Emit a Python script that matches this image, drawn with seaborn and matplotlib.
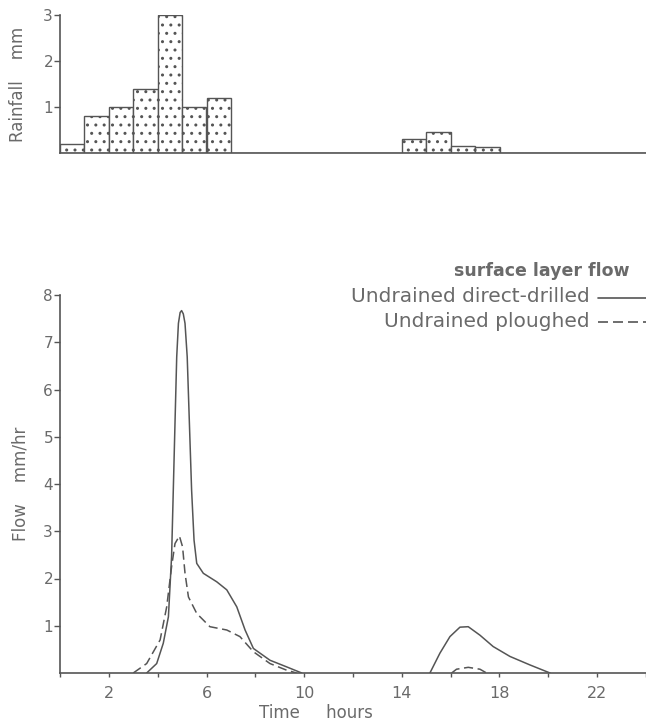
import matplotlib
matplotlib.use("Agg")
import matplotlib.pyplot as plt
from matplotlib.lines import Line2D
import seaborn as sns
import pandas as pd

# ---- data ----
rain_hour_start = [0, 1, 2, 3, 4, 5, 6, 14, 15, 16, 17]
rain_mm = [0.2, 0.8, 1.0, 1.4, 3.0, 1.0, 1.2, 0.3, 0.45, 0.15, 0.12]

# Undrained direct-drilled (solid), first event
dd1_hours = [3.55, 3.96, 4.23, 4.44, 4.57, 4.64, 4.71, 4.78, 4.85, 4.92, 4.98,
             5.05, 5.12, 5.21, 5.3, 5.39, 5.49, 5.6, 5.87, 6.42, 6.83, 7.24,
             7.58, 7.92, 8.6, 9.28, 9.9]
dd1_flow = [0.0, 0.2, 0.63, 1.19, 2.46, 3.87, 5.29, 6.69, 7.4, 7.63, 7.67,
            7.6, 7.4, 6.69, 5.28, 3.87, 2.81, 2.32, 2.11, 1.93, 1.76, 1.4,
            0.91, 0.52, 0.27, 0.13, 0.0]
# second event
dd2_hours = [15.15, 15.56, 15.97, 16.38, 16.72, 17.2, 17.74, 18.43, 19.25, 20.07]
dd2_flow = [0.0, 0.42, 0.77, 0.97, 0.98, 0.8, 0.56, 0.35, 0.17, 0.0]

# Undrained ploughed (dashed)
pl1_hours = [3.0, 3.55, 4.1, 4.37, 4.57, 4.71, 4.89, 5.02, 5.12, 5.26, 5.6,
             6.14, 6.83, 7.37, 7.92, 8.6, 9.28, 9.69]
pl1_flow = [0.0, 0.2, 0.7, 1.4, 2.25, 2.74, 2.9, 2.67, 2.11, 1.61, 1.26,
            0.98, 0.91, 0.77, 0.45, 0.2, 0.06, 0.0]
pl2_hours = [16.04, 16.24, 16.72, 17.2, 17.47]
pl2_flow = [0.0, 0.08, 0.12, 0.08, 0.0]

x_ticks = [0, 2, 4, 6, 8, 10, 12, 14, 16, 18, 20, 22, 24]
x_tick_labels = ["", "2", "", "6", "", "10", "", "14", "", "18", "", "22", ""]
flow_ticks = [1, 2, 3, 4, 5, 6, 7, 8]
rain_ticks = [1, 2, 3]

TXT = "#6a6a6a"
LN = "#555555"

sns.set_theme(style="white")
plt.rcParams["font.family"] = ["DejaVu Sans"]
plt.rcParams["hatch.color"] = "#777777"
plt.rcParams["hatch.linewidth"] = 1.0

W, H = 646, 724
fig = plt.figure(figsize=(W / 100, H / 100), dpi=100)

def fx(px):
    return px / W

def fy(py):
    return 1 - py / H

left = fx(60)
width = fx(646) - left

# ---- rainfall axes ----
ax1 = fig.add_axes([left, fy(153), width, fy(15) - fy(153)])
rain_df = pd.DataFrame({"hour": rain_hour_start, "mm": rain_mm})
sns.histplot(data=rain_df, x="hour", weights="mm", bins=list(range(0, 25)),
             ax=ax1, color="white", edgecolor=LN, linewidth=1.0,
             hatch="..", alpha=1.0)
ax1.set_xlim(0, 24)
ax1.set_ylim(0, 3)
ax1.set_yticks(rain_ticks)
ax1.set_xticks([])
ax1.set_xlabel("")
ax1.set_ylabel("Rainfall    mm", color=TXT, fontsize=12, labelpad=12)
for s in ["top", "right"]:
    ax1.spines[s].set_visible(False)
for s in ["left", "bottom"]:
    ax1.spines[s].set_color(LN)
    ax1.spines[s].set_linewidth(1.2)
ax1.tick_params(axis="y", direction="out", length=4, width=1, color=LN,
                labelcolor=TXT, labelsize=11, pad=1, left=True)

# ---- flow axes ----
ax2 = fig.add_axes([left, fy(673), width, fy(295) - fy(673)])
for hrs, fl in ((dd1_hours, dd1_flow), (dd2_hours, dd2_flow)):
    sns.lineplot(x=hrs, y=fl, ax=ax2, color=LN, linewidth=1.1,
                 sort=False, estimator=None)
for hrs, fl in ((pl1_hours, pl1_flow), (pl2_hours, pl2_flow)):
    sns.lineplot(x=hrs, y=fl, ax=ax2, color=LN, linewidth=1.1,
                 sort=False, estimator=None, linestyle=(0, (6, 3)))
ax2.set_xlim(0, 24)
ax2.set_ylim(0, 8)
ax2.set_yticks(flow_ticks)
ax2.set_xticks(x_ticks)
ax2.set_xticklabels(x_tick_labels)
ax2.set_xlabel("")
ax2.set_ylabel("Flow    mm/hr", color=TXT, fontsize=12, labelpad=10)
for s in ["top", "right"]:
    ax2.spines[s].set_visible(False)
for s in ["left", "bottom"]:
    ax2.spines[s].set_color(LN)
    ax2.spines[s].set_linewidth(1.2)
ax2.tick_params(axis="y", direction="out", length=4, width=1, color=LN,
                labelcolor=TXT, labelsize=11, pad=1, left=True)
ax2.tick_params(axis="x", direction="out", length=3, width=1, color=LN,
                labelcolor=TXT, labelsize=11.5, pad=6, bottom=True)

fig.text(fx(316), fy(713), "Time     hours", ha="center", va="center",
         color=TXT, fontsize=12)

# ---- legend ----
fig.text(fx(630), fy(271), "surface layer flow", ha="right", va="center",
         color=TXT, fontsize=12.5, fontweight="bold")
fig.text(fx(590), fy(297), "Undrained direct-drilled", ha="right", va="center",
         color=TXT, fontsize=14.5)
fig.text(fx(590), fy(322), "Undrained ploughed", ha="right", va="center",
         color=TXT, fontsize=14.5)
fig.add_artist(Line2D([fx(598), fx(646)], [fy(298), fy(298)], color=LN,
                      linewidth=1.2, transform=fig.transFigure))
fig.add_artist(Line2D([fx(598), fx(646)], [fy(322), fy(322)], color=LN,
                      linewidth=1.2, linestyle=(0, (6, 3)),
                      transform=fig.transFigure))

fig.savefig("out.png", dpi=100)
